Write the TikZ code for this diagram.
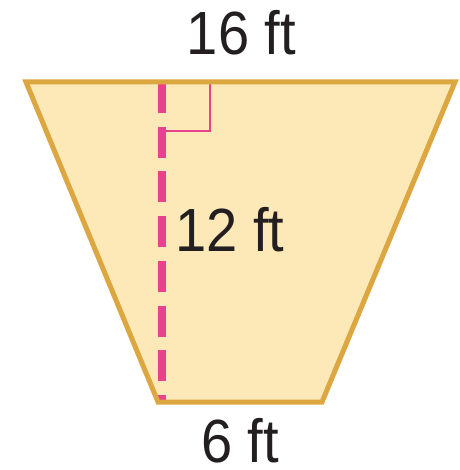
\documentclass[tikz,border=0pt]{standalone}
\usepackage{fontspec}
\setmainfont{Liberation Sans}
\definecolor{shapefill}{HTML}{FDE8B8}
\definecolor{shapeedge}{HTML}{DCA640}
\definecolor{heightpink}{HTML}{E9418B}
\definecolor{labeltext}{HTML}{231F20}
\tikzset{
  lbl/.style={inner sep=0pt, text=labeltext, font=\fontsize{61}{61}\selectfont, xscale=0.92},
  outline/.style={draw=shapeedge, fill=shapefill, line width=5pt, line join=miter},
  heightline/.style={draw=heightpink, line width=8pt, dash pattern=on 31pt off 13.7pt},
  rightmark/.style={draw=heightpink, line width=2pt}
}
\begin{document}
\begin{tikzpicture}[x=1pt,y=-1pt]
\useasboundingbox (0,0) rectangle (459,470);
\coordinate (tl) at (26,82);
\coordinate (tr) at (455,82);
\coordinate (br) at (322,402);
\coordinate (bl) at (158,402);
\coordinate (ht) at (162,82);
\coordinate (hb) at (162,402);
\coordinate (ra1) at (210,82);
\coordinate (ra2) at (210,131);
\coordinate (ra3) at (162,131);
\fill[shapefill] (tl) -- (tr) -- (br) -- (bl) -- cycle;
\draw[heightline] (ht) -- (hb);
\draw[rightmark] (ra1) -- (ra2) -- (ra3);
\draw[outline, fill=none] (tl) -- (tr) -- (br) -- (bl) -- cycle;
\node[lbl] (top) at (241.5,33) {16 ft};
\node[lbl] (mid) at (230,230) {12 ft};
\node[lbl] (bot) at (240,441) {6 ft};
\end{tikzpicture}
\end{document}
